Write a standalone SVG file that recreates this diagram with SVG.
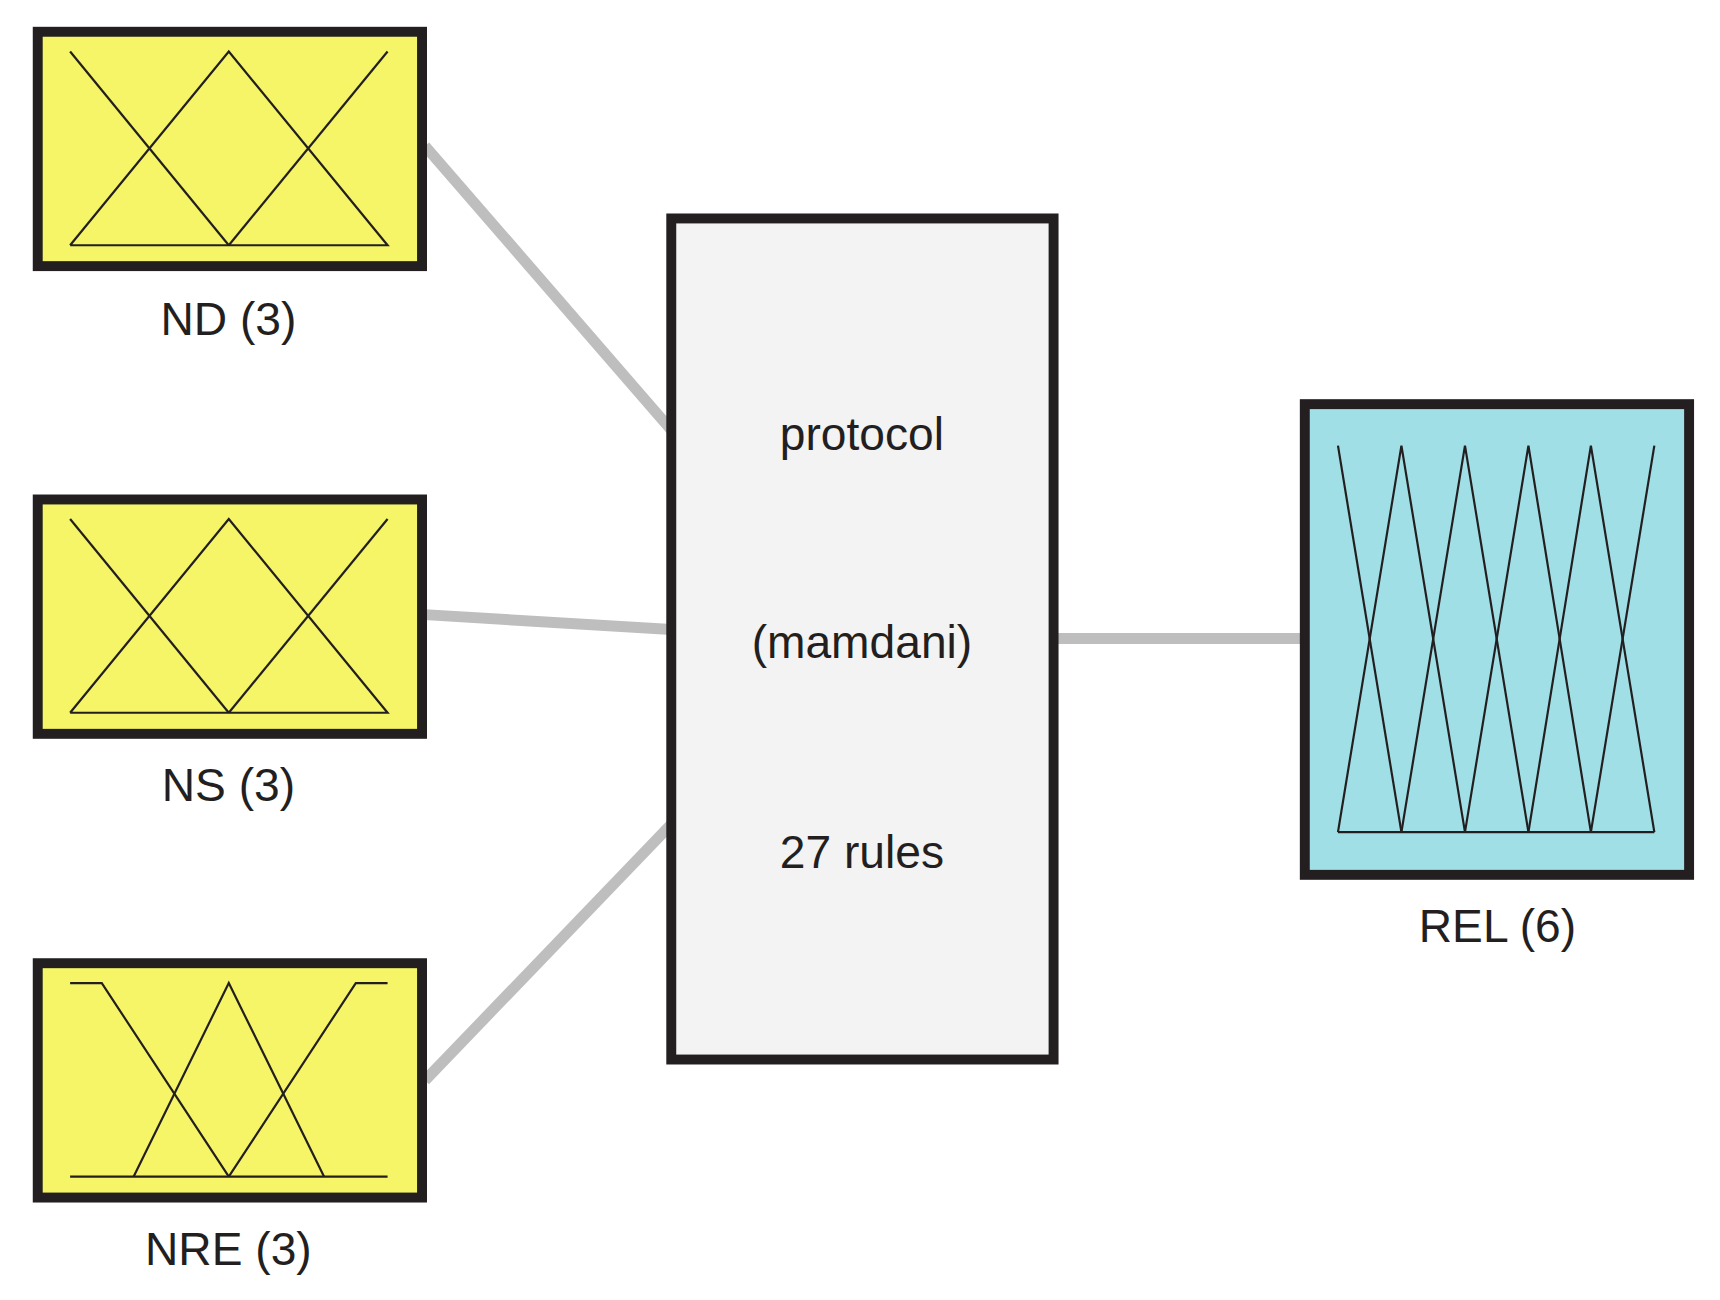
<svg xmlns="http://www.w3.org/2000/svg" width="1720" height="1300" viewBox="0 0 1720 1300">
<style>
.box{stroke:#231f20;stroke-width:10}
.in{fill:#f5f567}.out{fill:#a0dfe5}.sys{fill:#f3f3f3}
.mf{fill:none;stroke:#231f20;stroke-width:2.2}
.conn{stroke:#bfbebe;stroke-width:11;fill:none}
text{font-family:"Liberation Sans",Arial,sans-serif;font-size:46.5px;fill:#231f20;text-anchor:middle}
</style>
<rect width="1720" height="1300" fill="#fff"/>
<g transform="scale(0.993)">
<g id="connectors">
<line class="conn" x1="428" y1="147" x2="676" y2="433"/>
<line class="conn" x1="428" y1="619" x2="676" y2="634"/>
<line class="conn" x1="428" y1="1088" x2="676" y2="830"/>
<line class="conn" x1="1061" y1="643" x2="1314" y2="643"/>
</g>
<g id="ND">
<rect class="box in" x="38" y="32" width="387" height="236"/>
<polyline class="mf" points="70.6,51.8 230.4,247"/>
<polyline class="mf" points="70.6,247 230.4,51.8 390.3,247 70.6,247"/>
<polyline class="mf" points="230.4,247 390.3,51.8"/>
<text x="230" y="337">ND (3)</text>
</g>
<g id="NS">
<rect class="box in" x="38" y="503" width="387" height="236"/>
<polyline class="mf" points="70.6,522.6 230.4,717.8"/>
<polyline class="mf" points="70.6,717.8 230.4,522.6 390.3,717.8 70.6,717.8"/>
<polyline class="mf" points="230.4,717.8 390.3,522.6"/>
<text x="230" y="807">NS (3)</text>
</g>
<g id="NRE">
<rect class="box in" x="38" y="970" width="387" height="236"/>
<polyline class="mf" points="70.6,990 102.5,990 230.4,1185"/>
<polyline class="mf" points="134.5,1185 230.4,990 326.4,1185"/>
<polyline class="mf" points="230.4,1185 358.3,990 390.3,990"/>
<line class="mf" x1="70.6" y1="1185" x2="390.3" y2="1185"/>
<text x="230" y="1274">NRE (3)</text>
</g>
<g id="protocol">
<rect class="box sys" x="676" y="220" width="385" height="847"/>
<text x="868" y="453">protocol</text>
<text x="868" y="663">(mamdani)</text>
<text x="868" y="874">27 rules</text>
</g>
<g id="REL">
<rect class="box out" x="1314" y="407" width="387" height="474"/>
<polyline class="mf" points="1347.4,448.8 1411.3,838"/>
<polyline class="mf" points="1347.4,838 1411.3,448.8 1475.3,838"/>
<polyline class="mf" points="1411.3,838 1475.3,448.8 1539.2,838"/>
<polyline class="mf" points="1475.3,838 1539.2,448.8 1602.1,838"/>
<polyline class="mf" points="1539.2,838 1602.1,448.8 1666,838"/>
<polyline class="mf" points="1602.1,838 1666,448.8"/>
<line class="mf" x1="1347.4" y1="838" x2="1666" y2="838"/>
<text x="1508" y="949">REL (6)</text>
</g>
</g>
</svg>
